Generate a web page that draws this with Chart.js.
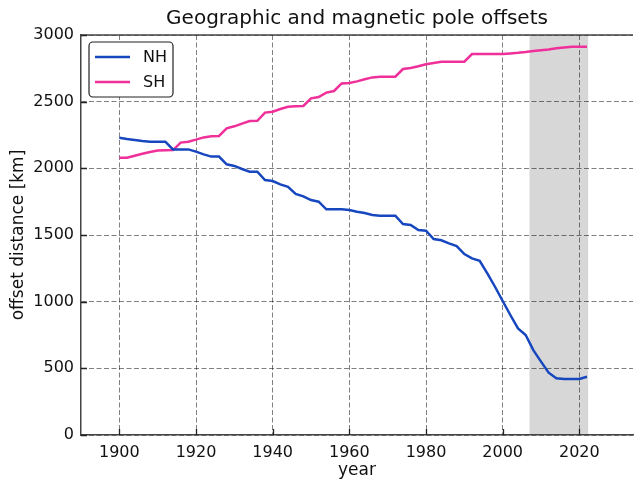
<!DOCTYPE html>
<html>
<head>
<meta charset="utf-8">
<script src="https://cdn.jsdelivr.net/npm/chart.js@4.4.1/dist/chart.umd.min.js"></script>
<style>
    html, body { margin: 0; padding: 0; background: #fff; }
    #wrap { width: 634px; height: 482px; }
</style>
</head>
<body>
<div id="wrap"><canvas id="graph1" width="634" height="482"></canvas></div>
<script>
// years sampled every 2 years
const years = [
    1900, 1902, 1904, 1906, 1908, 1910, 1912, 1914, 1916, 1918,
    1920, 1922, 1924, 1926, 1928, 1930, 1932, 1934, 1936, 1938,
    1940, 1942, 1944, 1946, 1948, 1950, 1952, 1954, 1956, 1958,
    1960, 1962, 1964, 1966, 1968, 1970, 1972, 1974, 1976, 1978,
    1980, 1982, 1984, 1986, 1988, 1990, 1992, 1994, 1996, 1998,
    2000, 2002, 2004, 2006, 2008, 2010, 2012, 2014, 2016, 2018,
    2020, 2022
];

const nhOffset = [
    2230, 2220, 2212, 2205, 2200, 2200, 2200, 2142, 2142, 2142,
    2125, 2105, 2088, 2088, 2030, 2018, 1995, 1975, 1975, 1912,
    1905, 1880, 1862, 1808, 1790, 1762, 1750, 1693, 1693, 1693,
    1688, 1675, 1665, 1650, 1645, 1645, 1645, 1582, 1575, 1537,
    1532, 1470, 1460, 1437, 1417, 1357, 1325, 1307, 1212, 1112,
    1005, 900, 800, 750, 637, 550, 467, 425, 420, 420,
    420, 437
];

const shOffset = [
    2080, 2080, 2095, 2110, 2122, 2133, 2135, 2137, 2193, 2200,
    2215, 2232, 2240, 2243, 2300, 2315, 2335, 2355, 2357, 2418,
    2425, 2445, 2462, 2465, 2468, 2525, 2535, 2568, 2580, 2637,
    2640, 2652, 2668, 2682, 2687, 2687, 2687, 2745, 2752, 2765,
    2780, 2790, 2800, 2800, 2800, 2800, 2857, 2857, 2857, 2857,
    2857, 2862, 2866, 2872, 2880, 2886, 2892, 2900, 2907, 2912,
    2912, 2912
];

const seriesLabels = ['NH', 'SH'];
const xTickValues = [1900, 1920, 1940, 1960, 1980, 2000, 2020];
const yTickValues = [0, 500, 1000, 1500, 2000, 2500, 3000];
const shadeYears = [2007, 2022.3];

const fontFamily = "'DejaVu Sans', sans-serif";

function toPoints(ys) {
    let pts = [];
    for (let i = 0; i < years.length; i++) {
        pts.push({x: years[i], y: ys[i]});
    }
    return pts;
}

// grey band behind the grid
const shadePlugin = {
    id: 'shade',
    beforeDraw(chart) {
        const ctx = chart.ctx;
        const xs = chart.scales.x;
        const area = chart.chartArea;
        const x1 = xs.getPixelForValue(shadeYears[0]);
        const x2 = xs.getPixelForValue(shadeYears[1]);
        ctx.save();
        ctx.fillStyle = '#d7d7d7';
        ctx.fillRect(x1, area.top, x2 - x1, area.bottom - area.top);
        ctx.restore();
    }
};

// top spine, inward tick marks, boxed legend in the upper left
const framePlugin = {
    id: 'frame',
    afterDraw(chart) {
        const ctx = chart.ctx;
        const area = chart.chartArea;
        const xs = chart.scales.x;
        const ys = chart.scales.y;
        ctx.save();
        ctx.strokeStyle = '#444';
        ctx.lineWidth = 1.5;
        ctx.beginPath();
        ctx.moveTo(area.left, area.top);
        ctx.lineTo(area.right, area.top);
        ctx.stroke();

        ctx.strokeStyle = '#222';
        ctx.lineWidth = 1.3;
        ctx.beginPath();
        xTickValues.forEach(function (v) {
            let px = Math.round(xs.getPixelForValue(v)) + 0.5;
            ctx.moveTo(px, area.bottom);
            ctx.lineTo(px, area.bottom - 6);
        });
        yTickValues.forEach(function (v) {
            let py = Math.round(ys.getPixelForValue(v)) + 0.5;
            ctx.moveTo(area.left, py);
            ctx.lineTo(area.left + 6, py);
        });
        ctx.stroke();

        let bx = area.left + 8;
        let by = area.top + 7;
        let bw = 84;
        let bh = 55;
        ctx.fillStyle = '#fff';
        ctx.strokeStyle = '#222';
        ctx.lineWidth = 1.2;
        ctx.beginPath();
        ctx.roundRect(bx, by, bw, bh, 4);
        ctx.fill();
        ctx.stroke();

        ctx.font = '16px ' + fontFamily;
        ctx.textBaseline = 'middle';
        ctx.textAlign = 'left';
        chart.data.datasets.forEach(function (ds, i) {
            let ly = by + 15 + i * 25;
            ctx.strokeStyle = ds.borderColor;
            ctx.lineWidth = 2.5;
            ctx.beginPath();
            ctx.moveTo(bx + 6, ly);
            ctx.lineTo(bx + 41, ly);
            ctx.stroke();
            ctx.fillStyle = '#111';
            ctx.fillText(ds.label, bx + 54, ly + 1);
        });
        ctx.restore();
    }
};

let ctx = document.getElementById('graph1').getContext('2d');

let data = {
    datasets: [{
        label: seriesLabels[0],
        data: toPoints(nhOffset),
        borderColor: '#1747bf',
        borderWidth: 2.5,
        pointRadius: 0,
        fill: false
    }, {
        label: seriesLabels[1],
        data: toPoints(shOffset),
        borderColor: '#f0309a',
        borderWidth: 2.5,
        pointRadius: 0,
        fill: false
    }]
};

let gridOpts = {
    color: 'rgba(0, 0, 0, 0.5)',
    lineWidth: 1,
    drawTicks: false
};

let options = {
    responsive: false,
    animation: false,
    layout: { padding: { left: 0, right: 1, top: 0, bottom: 0 } },
    plugins: {
        legend: { display: false },
        tooltip: { enabled: false },
        title: {
            display: true,
            text: 'Geographic and magnetic pole offsets',
            color: '#111',
            fullSize: false,
            font: { family: fontFamily, size: 20, weight: 'normal', lineHeight: 1.2 },
            padding: { top: 7, bottom: 4 }
        }
    },
    scales: {
        x: {
            type: 'linear',
            min: 1890,
            max: 2034,
            ticks: {
                autoSkip: false,
                color: '#111',
                padding: 8,
                font: { family: fontFamily, size: 16 },
                callback: function (v) { return String(v); }
            },
            afterBuildTicks: function (scale) {
                scale.ticks = xTickValues.map(function (v) { return {value: v}; });
            },
            afterFit: function (scale) { scale.height = 47; },
            grid: gridOpts,
            border: { color: '#444', width: 1.5, dash: [5, 2.5] },
            title: {
                display: true,
                text: 'year',
                color: '#111',
                font: { family: fontFamily, size: 17 },
                padding: { top: 0, bottom: 1 }
            }
        },
        y: {
            min: 0,
            max: 3000,
            ticks: {
                autoSkip: false,
                color: '#111',
                padding: 7,
                font: { family: fontFamily, size: 16 },
                callback: function (v) { return String(v); }
            },
            afterBuildTicks: function (scale) {
                scale.ticks = yTickValues.map(function (v) { return {value: v}; });
            },
            afterFit: function (scale) { scale.width = 81; },
            grid: gridOpts,
            border: { color: '#444', width: 1.5, dash: [5, 2.5] },
            title: {
                display: true,
                text: 'offset distance [km]',
                color: '#111',
                font: { family: fontFamily, size: 17 },
                padding: { top: 8, bottom: 0 }
            }
        }
    }
};

let config = {
    type: 'line',
    data: data,
    options: options,
    plugins: [shadePlugin, framePlugin]
};

let graph1 = new Chart(ctx, config);
</script>
</body>
</html>
